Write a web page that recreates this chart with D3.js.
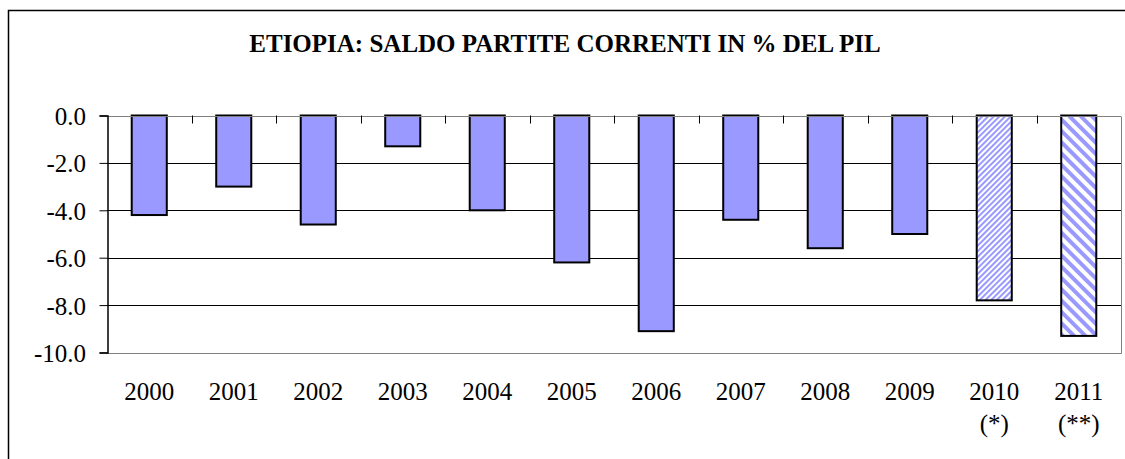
<!DOCTYPE html>
<html>
<head>
<meta charset="utf-8">
<script src="https://cdn.jsdelivr.net/npm/d3@7"></script>
<style>
  html, body { margin: 0; padding: 0; background: #fff; }
  svg, svg text { font-family: "Liberation Serif", "Times New Roman", serif !important; }
</style>
</head>
<body>
<svg id="chart"></svg>
<script>
const years = ['2000', '2001', '2002', '2003', '2004', '2005', '2006', '2007', '2008', '2009', '2010', '2011'];
const notes = ['', '', '', '', '', '', '', '', '', '', '(*)', '(**)'];
const saldo = [-4.2, -3.0, -4.6, -1.3, -4.0, -6.2, -9.1, -4.4, -5.6, -5.0, -7.8, -9.3];
const yTicks = [0, -2, -4, -6, -8, -10];
const title = 'ETIOPIA: SALDO PARTITE CORRENTI IN % DEL PIL';

const width = 1125;
const height = 459;
const margin = { top: 115.5, right: 4, bottom: 106.5, left: 107 };

const svg = d3.select('#chart').attr('width', width).attr('height', height);

// hatch patterns for the estimates
const defs = svg.append('defs');
const fine = defs.append('pattern')
  .attr('id', 'hatch-fine')
  .attr('patternUnits', 'userSpaceOnUse')
  .attr('width', 4).attr('height', 4)
  .attr('patternTransform', 'rotate(45)');
fine.append('rect').attr('width', 4).attr('height', 4).attr('fill', '#fff');
fine.append('rect').attr('width', 2).attr('height', 4).attr('fill', '#9999ff');

const wide = defs.append('pattern')
  .attr('id', 'hatch-wide')
  .attr('patternUnits', 'userSpaceOnUse')
  .attr('width', 8).attr('height', 8)
  .attr('patternTransform', 'rotate(-45)');
wide.append('rect').attr('width', 8).attr('height', 8).attr('fill', '#fff');
wide.append('rect').attr('width', 4).attr('height', 8).attr('fill', '#9999ff');

const fills = years.map((d, i) => i === 10 ? 'url(#hatch-fine)' : i === 11 ? 'url(#hatch-wide)' : '#9999ff');

// outer frame
svg.append('rect')
  .attr('x', 8.5).attr('y', 10.5)
  .attr('width', width + 10).attr('height', height + 10)
  .attr('fill', 'none')
  .attr('stroke', '#000')
  .attr('stroke-width', 1.5);

svg.append('text')
  .attr('x', 565).attr('y', 52)
  .attr('text-anchor', 'middle')
  .attr('font-weight', 'bold')
  .attr('font-size', 25)
  .text(title);

const x = d3.scaleBand()
  .domain(years)
  .range([margin.left, width - margin.right])
  .paddingInner(0.585)
  .paddingOuter(0.2925);

const y = d3.scaleLinear()
  .domain([-10, 0])
  .range([height - margin.bottom, margin.top]);

// gridlines
svg.append('g')
  .selectAll('line')
  .data(yTicks.filter(d => d !== 0 && d !== -10))
  .join('line')
  .attr('x1', margin.left).attr('x2', width - margin.right)
  .attr('y1', d => Math.round(y(d)) + 0.5).attr('y2', d => Math.round(y(d)) + 0.5)
  .attr('stroke', '#000');

// plot area border (right & bottom) in grey
svg.append('path')
  .attr('d', `M${margin.left},${Math.round(y(-10)) + 0.5}H${width - margin.right + 0.5}V${Math.round(y(0)) + 0.5}`)
  .attr('fill', 'none')
  .attr('stroke', '#808080');

// bars
svg.append('g')
  .selectAll('rect')
  .data(saldo)
  .join('rect')
  .attr('x', (d, i) => x(years[i]))
  .attr('y', y(0))
  .attr('width', x.bandwidth())
  .attr('height', d => y(d) - y(0))
  .attr('fill', (d, i) => fills[i])
  .attr('stroke', '#000')
  .attr('stroke-width', 2);

// zero line (top) with category ticks hanging down
const x0 = d3.scaleLinear().domain([0, years.length]).range([margin.left, width - margin.right]);
svg.append('line')
  .attr('x1', margin.left).attr('x2', width - margin.right)
  .attr('y1', Math.round(y(0)) + 0.5).attr('y2', Math.round(y(0)) + 0.5)
  .attr('stroke', '#808080');
svg.append('g')
  .selectAll('line')
  .data(d3.range(1, years.length))
  .join('line')
  .attr('x1', d => Math.round(x0(d)) + 0.5).attr('x2', d => Math.round(x0(d)) + 0.5)
  .attr('y1', y(0)).attr('y2', y(0) + 8)
  .attr('stroke', '#000');

// y axis
const yAxis = svg.append('g')
  .attr('transform', `translate(${margin.left + 0.5},0)`)
  .call(d3.axisLeft(y).tickValues(yTicks).tickSize(8).tickPadding(13.5));
yAxis.attr('font-family', null).attr('font-size', 25);
yAxis.select('.domain').attr('stroke', '#000').attr('stroke-width', 1.5);
yAxis.selectAll('.tick line').attr('stroke', '#000');
yAxis.selectAll('.tick text')
  .attr('fill', '#000')
  .attr('dy', '0.36em')
  .text(d => d3.format('.1f')(d).replace('−', '-'));

// x labels
svg.append('g')
  .selectAll('text')
  .data(years)
  .join('text')
  .attr('x', d => x(d) + x.bandwidth() / 2)
  .attr('y', 400)
  .attr('text-anchor', 'middle')
  .attr('font-size', 25)
  .text(d => d);
svg.append('g')
  .selectAll('text')
  .data(notes)
  .join('text')
  .attr('x', (d, i) => x(years[i]) + x.bandwidth() / 2)
  .attr('y', 432)
  .attr('text-anchor', 'middle')
  .attr('font-size', 25)
  .text(d => d);
</script>
</body>
</html>
